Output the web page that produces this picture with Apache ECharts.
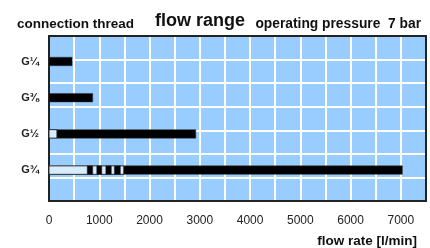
<!DOCTYPE html>
<html>
<head>
<meta charset="utf-8">
<script src="https://cdn.jsdelivr.net/npm/echarts@6/dist/echarts.min.js"></script>
<style>
  html, body { margin: 0; padding: 0; background: #fff; }
  #chart { width: 430px; height: 248px; }
</style>
</head>
<body>
<div id="chart"></div>
<script>
// connection threads, top to bottom
const categories = ['G¼', 'G⅜', 'G½', 'G¾']
// light outlined part of each bar (l/min), 0 = none
const outlineTo = [0, 0, 160, 1490]
// solid black part of each bar (l/min)
const solidFrom = [0, 0, 160, 1490]
const solidTo = [460, 870, 2920, 7030]
// dashed blocks on the G¾ bar
const dashFrom = [760, 950, 1130, 1300]
const dashTo = [870, 1050, 1240, 1420]
const dashRow = 3
// x axis
const xMin = 0
const xMax = 7500
const xStep = 500
const xLabelStep = 1000

const FONT = '"Liberation Sans", Arial, Helvetica, sans-serif'

// segments for the custom series: [row, from, to, kind]
const segments = []
categories.forEach((c, i) => {
  if (outlineTo[i] > 0) segments.push([i, 0, outlineTo[i], 0])
})
dashFrom.forEach((f, i) => segments.push([dashRow, f, dashTo[i], 1]))
categories.forEach((c, i) => segments.push([i, solidFrom[i], solidTo[i], 1]))

function renderSeg(params, api) {
  const row = api.value(0)
  const a = api.coord([api.value(1), row])
  const b = api.coord([api.value(2), row])
  const h = 8.5
  const outline = api.value(3) === 0
  return {
    type: 'rect',
    shape: { x: a[0], y: a[1] - h / 2, width: b[0] - a[0], height: h },
    style: outline
      ? { fill: '#d9ecff', stroke: '#2a2a2a', lineWidth: 1 }
      : { fill: '#000', stroke: '#333', lineWidth: 0.5 }
  }
}

const frameLine = { show: true, onZero: false, lineStyle: { color: '#222', width: 2 } }

const chart = echarts.init(document.getElementById('chart'), null, { renderer: 'canvas' })

chart.setOption({
  animation: false,
  title: [
    {
      text: 'connection thread', left: 12, top: 12,
      textStyle: { fontFamily: FONT, fontSize: 13.5, fontWeight: 'bold', color: '#111' }
    },
    {
      text: 'flow range', left: 150, top: 7,
      textStyle: { fontFamily: FONT, fontSize: 18, fontWeight: 'bold', color: '#111' }
    },
    {
      text: 'operating pressure  7 bar', right: 4, top: 12,
      textStyle: { fontFamily: FONT, fontSize: 13.8, fontWeight: 'bold', color: '#111' }
    },
    {
      text: 'flow rate [l/min]', right: 8, top: 229,
      textStyle: { fontFamily: FONT, fontSize: 13.5, fontWeight: 'bold', color: '#111' }
    }
  ],
  grid: [
    { left: 49, top: 36, width: 377, height: 165, show: true, backgroundColor: '#99ccff', borderWidth: 0 },
    { left: 49, top: 43.4, width: 377, height: 144.8 }
  ],
  xAxis: [
    {
      gridIndex: 0, type: 'value', min: xMin, max: xMax, interval: xStep,
      axisLine: frameLine, axisTick: { show: false },
      splitLine: { show: true, lineStyle: { color: '#fff', width: 2 } },
      axisLabel: {
        margin: 14, fontFamily: FONT, fontSize: 12, color: '#222',
        formatter: v => (v % xLabelStep === 0 && v < xMax ? String(v) : '')
      }
    },
    { gridIndex: 1, type: 'value', min: xMin, max: xMax, show: false },
    {
      gridIndex: 0, type: 'value', position: 'top', min: xMin, max: xMax,
      axisLine: frameLine, axisTick: { show: false }, axisLabel: { show: false }, splitLine: { show: false }
    }
  ],
  yAxis: [
    {
      gridIndex: 0, type: 'value', min: 0, max: 7, interval: 1,
      axisLine: frameLine, axisTick: { show: false }, axisLabel: { show: false },
      splitLine: { show: true, lineStyle: { color: '#fff', width: 2 } }
    },
    {
      gridIndex: 1, type: 'category', inverse: true, data: categories,
      axisLine: { show: false }, axisTick: { show: false }, splitLine: { show: false },
      axisLabel: { margin: 10, fontFamily: FONT, fontSize: 11, fontWeight: 'bold', color: '#222' }
    },
    {
      gridIndex: 0, type: 'value', position: 'right', min: 0, max: 7,
      axisLine: frameLine, axisTick: { show: false }, axisLabel: { show: false }, splitLine: { show: false }
    }
  ],
  series: [
    {
      type: 'custom',
      xAxisIndex: 1,
      yAxisIndex: 1,
      renderItem: renderSeg,
      encode: { x: [1, 2], y: 0 },
      data: segments,
      z: 5
    }
  ]
})
</script>
</body>
</html>
